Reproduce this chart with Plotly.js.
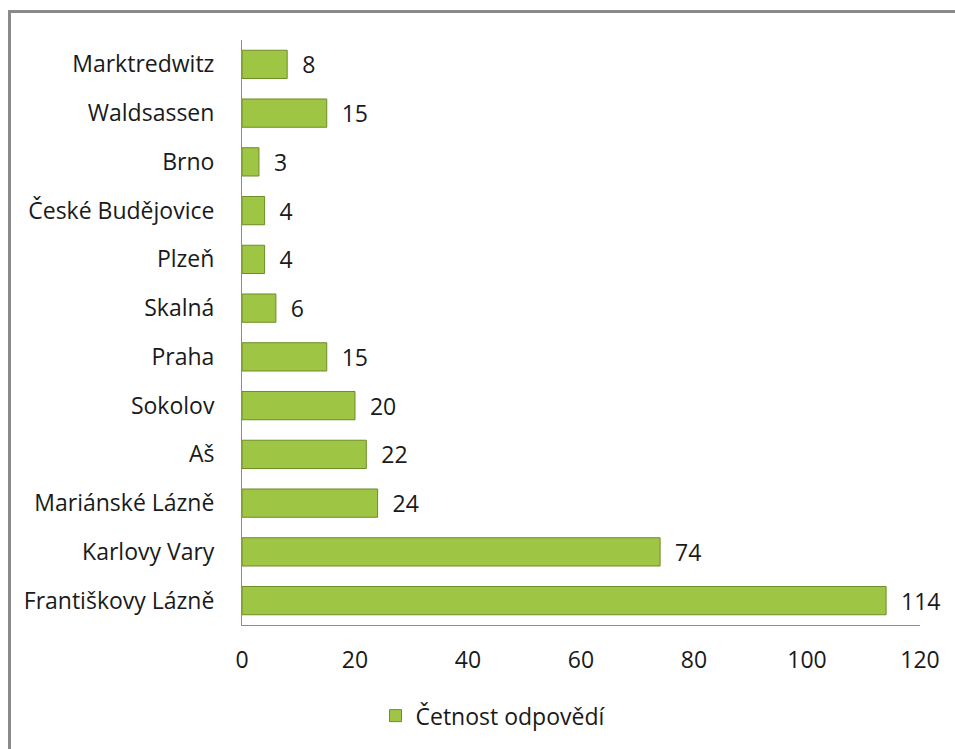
<!DOCTYPE html>
<html>
<head>
<meta charset="utf-8">
<script src="https://cdn.plot.ly/plotly-3.0.1.min.js"></script>
<style>
html,body{margin:0;padding:0;background:#fff;overflow:hidden;width:955px;height:749px;}
#wrap{position:relative;width:955px;height:749px;overflow:hidden;}
#frame{position:absolute;left:8px;top:10px;width:1000px;height:800px;border-left:3px solid #8a8a8a;border-top:3px solid #8a8a8a;pointer-events:none;}
#chart{position:absolute;left:0;top:0;width:955px;height:749px;}
</style>
</head>
<body>
<div id="wrap"><div id="chart"></div><div id="frame"></div></div>
<script>
const cities = ["Františkovy Lázně","Karlovy Vary","Mariánské Lázně","Aš","Sokolov","Praha","Skalná","Plzeň","České Budějovice","Brno","Waldsassen","Marktredwitz"];
const counts = [114,74,24,22,20,15,6,4,4,3,15,8];
const xTicks = [0,20,40,60,80,100,120];
const seriesName = "Četnost odpovědí";

const FONT = "'Open Sans', 'Noto Sans', sans-serif";
const FS = 23;

const trace = {
  type: "bar",
  orientation: "h",
  y: cities,
  x: counts,
  name: seriesName,
  width: 0.58,
  marker: {color: "#9fc545", line: {color: "#6d8d27", width: 1}},
  texttemplate: "\u00a0\u00a0%{x}",
  textposition: "outside",
  constraintext: "none",
  cliponaxis: false,
  textfont: {family: FONT, size: FS, color: "#1a1a1a"},
  showlegend: true,
  hoverinfo: "x+y"
};

const W = 955, H = 749, L = 242, R = 35, T = 40, B = 122;
const pw = W - L - R, ph = H - T - B;
const px = v => (v - L) / pw;
const py = v => (H - B - v) / ph;

const layout = {
  width: W, height: H,
  margin: {l: L, r: R, t: T, b: B, pad: 0},
  paper_bgcolor: "rgba(255,255,255,0)", plot_bgcolor: "rgba(255,255,255,0)",
  font: {family: FONT, size: FS, color: "#1a1a1a"},
  xaxis: {
    range: [0, 120], tickvals: xTicks, ticktext: xTicks.map(String),
    showgrid: false, zeroline: false, showline: true, linecolor: "#8c8c8c", linewidth: 1,
    ticks: "outside", ticklen: 14, tickcolor: "rgba(0,0,0,0)",
    tickfont: {family: FONT, size: FS, color: "#1a1a1a"}, fixedrange: true
  },
  yaxis: {
    type: "category", categoryorder: "array", categoryarray: cities,
    showgrid: false, zeroline: false, showline: true, linecolor: "#8c8c8c", linewidth: 1,
    ticks: "outside", ticklen: 22, tickcolor: "rgba(0,0,0,0)",
    tickfont: {family: FONT, size: FS, color: "#1a1a1a"}, fixedrange: true
  },
  showlegend: true,
  legend: {
    orientation: "h", x: px(493), xanchor: "center", y: py(718), yanchor: "middle",
    font: {family: FONT, size: FS, color: "#1a1a1a"}, bgcolor: "rgba(0,0,0,0)",
    itemwidth: 30
  }
};

Plotly.newPlot("chart", [trace], layout, {displayModeBar: false, staticPlot: true});
</script>
</body>
</html>
